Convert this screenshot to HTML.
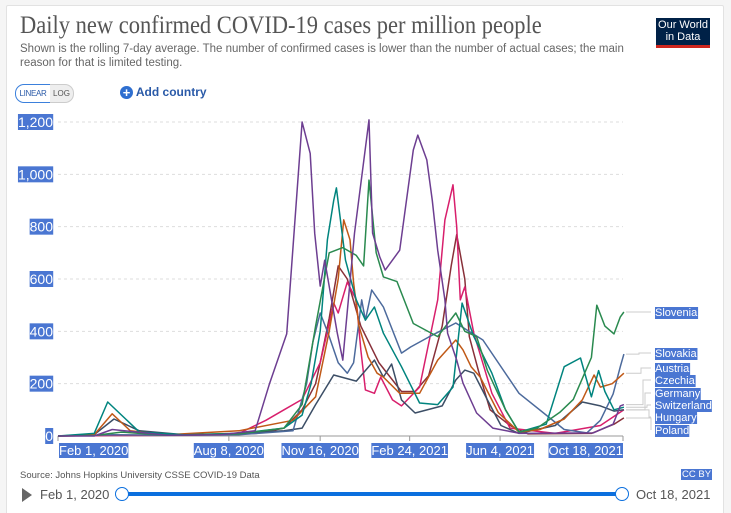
<!DOCTYPE html>
<html><head><meta charset="utf-8">
<style>
html,body{margin:0;width:731px;height:513px;overflow:hidden}
body{background:#f5f5f5;font-family:"Liberation Sans",sans-serif;position:relative}
#card{position:absolute;left:6px;top:5px;width:716px;height:510px;background:#fff;border:1px solid #e2e2e2;border-radius:2px}
.abs{position:absolute;white-space:nowrap}
.hl{background:#4a76d2;color:#fff}
</style></head><body>
<div id="card"></div>
<div class="abs" style="left:20px;top:12px;font-family:'Liberation Serif',serif;font-size:25px;color:#555;transform:scaleX(0.9);transform-origin:0 0">Daily new confirmed COVID-19 cases per million people</div>
<div class="abs" style="left:20px;top:42px;font-size:11.5px;color:#666;line-height:14px;white-space:normal;width:620px">Shown is the rolling 7-day average. The number of confirmed cases is lower than the number of actual cases; the main reason for that is limited testing.</div>
<div class="abs" style="left:656px;top:18px;width:54px;height:30px;background:#002147;color:#fff;font-size:11px;line-height:12px;text-align:center;padding-top:1px;box-sizing:border-box;border-bottom:3px solid #ce261e">Our World<br>in Data</div>
<div class="abs" style="left:15px;top:84px;width:34px;height:17px;border:1px solid #3b80dc;border-radius:9px 0 0 9px;font-size:8px;letter-spacing:-0.3px;color:#2a5aa8;line-height:17px;text-align:center">LINEAR</div>
<div class="abs" style="left:50px;top:84px;width:23px;height:17px;border:1px solid #ccc;border-left:none;border-radius:0 9px 9px 0;background:#eee;font-size:8px;color:#555;line-height:17px;text-align:center">LOG</div>
<div class="abs" style="left:120px;top:85px;font-size:12px;color:#2a5aa8;font-weight:bold"><span style="display:inline-block;width:13px;height:13px;border-radius:50%;background:#2f6fd0;color:#fff;text-align:center;line-height:13px;font-size:13px;vertical-align:-1px">+</span> Add country</div>
<svg id="chart" width="731" height="513" style="position:absolute;left:0;top:0"></svg>
<div class="abs" style="left:20px;top:470px;font-size:9.5px;color:#555">Source: Johns Hopkins University CSSE COVID-19 Data</div>
<div class="abs hl" style="left:681px;top:469px;font-size:9.5px;padding:0 1px">CC BY</div>
<div class="abs" style="left:22px;top:488px;width:0;height:0;border-left:10px solid #666;border-top:7px solid transparent;border-bottom:7px solid transparent"></div>
<div class="abs" style="left:40px;top:487px;font-size:13px;color:#555">Feb 1, 2020</div>
<div class="abs" style="left:636px;top:487px;font-size:13px;color:#555">Oct 18, 2021</div>
<div class="abs" style="left:121px;top:492px;width:501px;height:4px;background:#0b6fde"></div>
<div class="abs" style="left:115px;top:487px;width:12px;height:12px;border:1px solid #0b6fde;border-radius:50%;background:#fff"></div>
<div class="abs" style="left:615px;top:487px;width:12px;height:12px;border:1px solid #0b6fde;border-radius:50%;background:#fff"></div>
<script>
const yTicks=[0,200,400,600,800,1000,1200];
const yTickLabels=["0","200","400","600","800","1,000","1,200"];
const xTickDays=[0,189,290,389,489,625];
const xTickLabels=["Feb 1, 2020","Aug 8, 2020","Nov 16, 2020","Feb 24, 2021","Jun 4, 2021","Oct 18, 2021"];
const seriesNames=["Slovenia","Slovakia","Austria","Czechia","Germany","Switzerland","Hungary","Poland"];
const slovDays=[0,40,70,120,200,250,270,285,300,315,330,338,344,352,360,375,393,420,440,450,463,475,495,510,530,555,570,590,596,605,615,622,626];
const slovVals=[0,2,15,3,8,30,120,420,700,720,690,650,978,700,608,590,430,380,470,400,380,250,100,15,30,90,140,300,500,420,390,455,474];
const svkDays=[0,60,120,200,260,275,282,290,299,310,320,327,336,340,347,360,380,390,410,440,470,510,560,585,600,614,622,626];
const svkVals=[0,5,3,5,20,200,360,470,390,280,240,280,520,443,558,493,317,340,378,432,367,163,25,12,60,160,265,313];
const autDays=[0,40,60,80,120,200,260,285,300,310,316,323,327,333,343,353,360,378,400,420,440,448,457,467,487,510,533,560,580,593,600,613,626];
const autVals=[0,5,85,20,5,20,60,150,400,600,826,750,585,420,302,240,225,163,163,290,367,329,265,225,90,15,25,65,138,233,187,200,240];
const czeDays=[0,40,60,120,180,218,234,253,270,279,284,290,295,309,315,328,344,348,356,362,378,393,398,408,414,420,428,431,441,448,463,481,511,592,614,622,626];
const czeVals=[0,0,25,3,5,20,200,390,1200,1080,775,573,672,393,290,775,1208,775,684,634,710,1093,1150,1055,900,710,520,393,290,202,88,30,10,12,45,115,120];
const deuDays=[0,40,62,90,140,200,250,270,285,305,330,350,360,369,380,395,425,440,450,460,475,490,510,550,580,600,615,626];
const deuVals=[0,5,65,20,5,10,20,30,120,233,210,290,225,275,138,88,115,214,252,240,138,40,10,40,130,115,95,100];
const cheDays=[0,40,55,90,140,200,250,270,280,290,298,305,308,318,330,340,350,360,380,400,420,437,447,460,480,495,510,540,560,578,590,598,605,615,626];
const cheVals=[0,10,130,15,5,10,30,80,200,400,750,900,948,672,520,443,493,393,265,126,120,187,508,380,240,100,15,45,265,298,150,250,170,100,110];
const hunDays=[0,60,150,200,230,250,270,290,300,305,310,320,330,335,340,350,357,370,380,400,420,428,437,441,445,450,460,480,500,550,600,626];
const hunVals=[0,2,3,10,60,100,140,280,430,508,470,588,520,330,176,163,225,138,115,187,520,826,960,800,520,570,393,163,30,10,40,100];
const polDays=[0,60,150,220,250,270,285,290,300,310,320,335,355,380,395,410,425,435,441,450,455,465,478,500,520,590,615,626];
const polVals=[0,3,5,10,30,100,200,280,450,650,600,420,280,170,170,230,420,650,770,600,380,250,100,40,8,10,45,69];
const colors=["#2a8a4f","#4c6a9c","#c05917","#6d3e91","#3c4e66","#00847e","#d81f6c","#883039"];
const labelY=[312,353,368,380,393,405,417,430];

const svg=document.getElementById('chart');const NS='http://www.w3.org/2000/svg';
const x0=58,x1=623,y0=436,y1=122,dMax=625,vMax=1200;
const X=d=>x0+d*(x1-x0)/dMax, Y=v=>y0-v*(y0-y1)/vMax;
function mk(t,a){const e=document.createElementNS(NS,t);for(const k in a)e.setAttribute(k,a[k]);svg.appendChild(e);return e;}
yTicks.forEach((v,i)=>{
  if(v>0){const g=mk('line',{x1:x0,x2:x1,y1:Y(v),y2:Y(v),stroke:'#ddd','stroke-dasharray':'3,3'});
  
  }
  const r=mk('rect',{x:0,y:0,width:0,height:0,fill:'#4a76d2'});
  
  
  const t=mk('text',{x:53,y:Y(v)+5,'text-anchor':'end','font-size':14,fill:'#fff'});t.textContent=yTickLabels[i];
  
  
  const b=t.getBBox();r.setAttribute('x',b.x);r.setAttribute('y',b.y);r.setAttribute('width',b.width);r.setAttribute('height',b.height);
});
const ax=mk('line',{x1:x0,x2:x1,y1:y0,y2:y0,stroke:'#999'});


xTickDays.forEach((d,i)=>{
  const tk=mk('line',{x1:X(d),x2:X(d),y1:y0,y2:y0+5,stroke:'#999'});
  
  
  const r=mk('rect',{fill:'#4a76d2'});
  
  
  const anchor=i==0?'start':(i==xTickDays.length-1?'end':'middle');
  const t=mk('text',{x:X(d)+(i==0?1:0),y:455,'text-anchor':anchor,'font-size':13,fill:'#fff'});t.textContent=xTickLabels[i];
  
  
  const b=t.getBBox();r.setAttribute('x',b.x);r.setAttribute('y',b.y);r.setAttribute('width',b.width);r.setAttribute('height',b.height);
});
const allDays=[slovDays,svkDays,autDays,czeDays,deuDays,cheDays,hunDays,polDays];
const allVals=[slovVals,svkVals,autVals,czeVals,deuVals,cheVals,hunVals,polVals];
[7,6,4,1,2,5,0,3].forEach(i=>{
  const ds=allDays[i],vs=allVals[i];
  const pts=ds.map((d,j)=>[d,vs[j]]);
  const p=mk('polyline',{points:pts.map(q=>X(q[0]).toFixed(1)+','+Y(q[1]).toFixed(1)).join(' '),fill:'none',stroke:colors[i],'stroke-width':1.5,'stroke-linejoin':'round'});
  
  
});
seriesNames.forEach((n,i)=>{
  const vs=allVals[i],ey=Y(vs[vs.length-1]),ly=labelY[i];
  const c=mk('polyline',{points:`${x1+3},${ey} ${x1+14+i*2},${ey} ${x1+14+i*2},${ly} 651,${ly}`,fill:'none',stroke:'#ccc'});
  
  
  const r=mk('rect',{fill:'#4a76d2'});
  
  
  const t=mk('text',{x:655,y:ly+4,'font-size':11,fill:'#fff'});t.textContent=n;
  
  
  const b=t.getBBox();r.setAttribute('x',b.x);r.setAttribute('y',b.y);r.setAttribute('width',b.width);r.setAttribute('height',b.height);
});
</script>
</body></html>
